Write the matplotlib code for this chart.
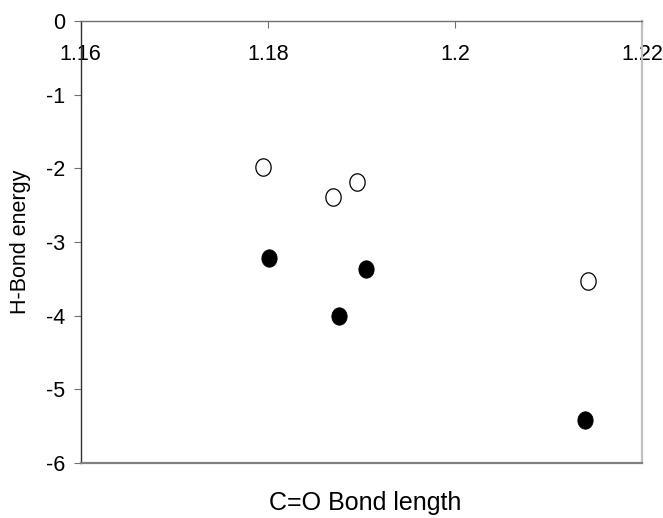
"""H-bond energy versus C=O bond length scatter."""

import matplotlib
matplotlib.use("Agg")
import matplotlib.pyplot as plt
import numpy as np
from matplotlib.path import Path

plt.rcParams["font.family"] = ["Liberation Sans", "DejaVu Sans"]

# open circles
open_x = [1.1795, 1.1870, 1.1895, 1.2142]
open_y = [-1.98, -2.39, -2.18, -3.53]
# filled circles
filled_x = [1.1801, 1.1876, 1.1905, 1.2139]
filled_y = [-3.22, -4.00, -3.37, -5.42]

x_ticks = [1.16, 1.18, 1.20, 1.22]
x_tick_labels = ["1.16", "1.18", "1.2", "1.22"]
y_ticks = [-6, -5, -4, -3, -2, -1, 0]

# slightly tall ellipse, like the original Excel markers
t = np.linspace(0, 2 * np.pi, 60)
ellipse = Path(np.column_stack([0.88 * np.cos(t), np.sin(t)]), closed=True)

fig = plt.figure(figsize=(6.63, 5.18), dpi=100)
ax = fig.add_axes([0.1217, 0.1068, 0.8466, 0.8521])

ax.plot(open_x, open_y, linestyle="none", marker=ellipse, markersize=12.5,
        markerfacecolor="white", markeredgecolor="black", markeredgewidth=0.9)
ax.plot(filled_x, filled_y, linestyle="none", marker=ellipse, markersize=12.5,
        markerfacecolor="black", markeredgecolor="black", markeredgewidth=0.6)

ax.set_xlim(1.16, 1.22)
ax.set_ylim(-6, 0)
ax.set_xticks(x_ticks)
ax.set_xticklabels(x_tick_labels)
ax.set_yticks(y_ticks)
ax.set_yticklabels([str(v) for v in y_ticks])

# x axis crosses at y = 0 (top of the plot)
ax.spines["bottom"].set_position(("data", 0))
ax.spines["bottom"].set_color("#707070")
ax.spines["bottom"].set_linewidth(1.0)
ax.spines["top"].set_visible(False)
ax.spines["left"].set_color("#303030")
ax.spines["left"].set_linewidth(1.0)
ax.spines["right"].set_color("#c0c0c0")
ax.spines["right"].set_linewidth(1.6)
ax.axhline(-6, color="#808080", linewidth=1.6, clip_on=False, zorder=3)

ax.tick_params(axis="x", direction="out", length=5, width=0.8, color="#707070",
               labelsize=15.5, pad=11)
ax.tick_params(axis="y", direction="out", length=5, width=0.8, color="#707070",
               labelsize=15.5, pad=6)

fig.text(0.551, 0.028, "C=O Bond length", fontsize=18, ha="center", va="center")
ax.set_ylabel("H-Bond energy", fontsize=15.5, labelpad=11)

fig.savefig("out.png", dpi=100)
